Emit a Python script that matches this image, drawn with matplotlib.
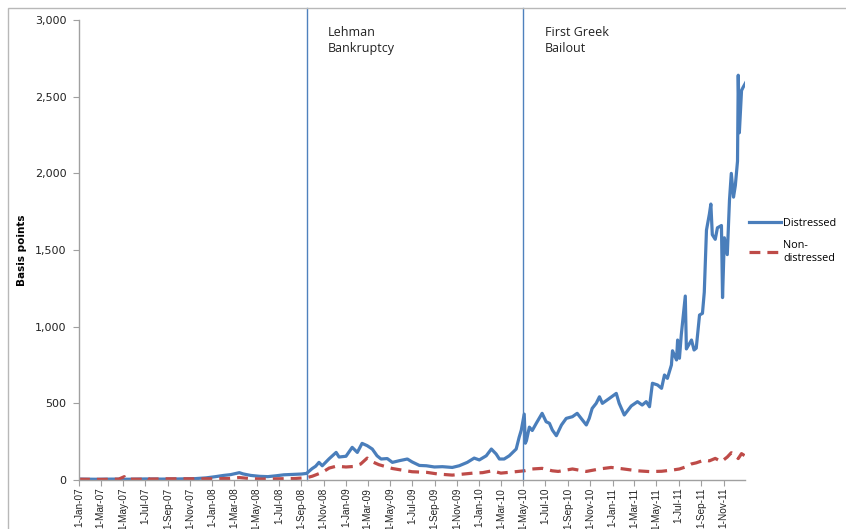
import pandas as pd
import matplotlib
matplotlib.use("Agg")
import matplotlib.pyplot as plt
import matplotlib.dates as mdates
from matplotlib.patches import Rectangle

# spreads, basis points
dist_dates = [
    "2007-01-01", "2007-02-15", "2007-04-01", "2007-05-15", "2007-07-01", "2007-08-15",
    "2007-10-01", "2007-11-15", "2007-12-15", "2008-01-10", "2008-02-01", "2008-02-20",
    "2008-03-15", "2008-03-25", "2008-04-15", "2008-05-10", "2008-06-01", "2008-06-25",
    "2008-07-15", "2008-08-10", "2008-09-01", "2008-09-15", "2008-09-30", "2008-10-10",
    "2008-10-19", "2008-10-28", "2008-11-16", "2008-12-05", "2008-12-13", "2009-01-01",
    "2009-01-18", "2009-02-01", "2009-02-14", "2009-02-28", "2009-03-14", "2009-03-27",
    "2009-04-07", "2009-04-24", "2009-05-08", "2009-05-27", "2009-06-18", "2009-07-01",
    "2009-07-21", "2009-08-09", "2009-08-31", "2009-09-22", "2009-10-19", "2009-11-07",
    "2009-11-29", "2009-12-18", "2010-01-01", "2010-01-20", "2010-02-03", "2010-02-16",
    "2010-02-25", "2010-03-10", "2010-03-24", "2010-04-12", "2010-04-20", "2010-04-26",
    "2010-05-04", "2010-05-07", "2010-05-10", "2010-05-18", "2010-05-26", "2010-06-06",
    "2010-06-22", "2010-07-03", "2010-07-12", "2010-07-20", "2010-07-31", "2010-08-14",
    "2010-08-27", "2010-09-13", "2010-09-26", "2010-10-07", "2010-10-21", "2010-10-29",
    "2010-11-06", "2010-11-17", "2010-11-26", "2010-12-04", "2010-12-23", "2011-01-11",
    "2011-01-19", "2011-02-02", "2011-02-21", "2011-03-10", "2011-03-23", "2011-04-03",
    "2011-04-12", "2011-04-20", "2011-05-04", "2011-05-15", "2011-05-23", "2011-05-31",
    "2011-06-11", "2011-06-14", "2011-06-25", "2011-06-28", "2011-07-03", "2011-07-08",
    "2011-07-19", "2011-07-22", "2011-08-05", "2011-08-12", "2011-08-18", "2011-08-27",
    "2011-09-04", "2011-09-09", "2011-09-15", "2011-09-23", "2011-09-27", "2011-10-01",
    "2011-10-09", "2011-10-15", "2011-10-26", "2011-10-29", "2011-11-03", "2011-11-11",
    "2011-11-17", "2011-11-22", "2011-11-28", "2011-12-03", "2011-12-09", "2011-12-11",
    "2011-12-14", "2011-12-20", "2011-12-24", "2011-12-31",
]
dist_bp = [
    6, 5, 6, 5, 7, 6,
    7, 9, 14, 22, 30, 35,
    48, 40, 30, 24, 22, 28,
    34, 37, 39, 43, 74, 90,
    115, 93, 139, 180, 150, 155,
    213, 180, 239, 224, 202, 158,
    137, 140, 115, 126, 137, 118,
    95, 93, 85, 87, 82, 93,
    115, 143, 131, 158, 202, 170,
    137, 137, 158, 202, 278, 326,
    430, 240, 256, 345, 323, 370,
    435, 380, 370, 326, 289, 359,
    402, 413, 435, 402, 359, 402,
    467, 500, 543, 500, 532, 565,
    500, 424, 483, 511, 489, 511,
    478, 631, 620, 598, 685, 663,
    750, 843, 783, 913, 794, 946,
    1200, 855, 913, 848, 860, 1076,
    1087, 1225, 1630, 1735, 1800, 1600,
    1570, 1645, 1660, 1190, 1580, 1470,
    1825, 2000, 1845, 1920, 2080, 2640,
    2265, 2540, 2560, 2590,
]

nondist_dates = [
    "2007-01-01", "2007-03-01", "2007-04-20", "2007-05-05", "2007-05-10", "2007-06-25",
    "2007-07-05", "2007-07-12", "2007-09-01", "2007-11-01", "2008-01-01", "2008-02-15",
    "2008-03-15", "2008-04-10", "2008-05-15", "2008-07-01", "2008-08-15", "2008-09-15",
    "2008-10-01", "2008-10-28", "2008-11-16", "2008-12-05", "2009-01-01", "2009-01-20",
    "2009-02-10", "2009-02-28", "2009-03-15", "2009-04-01", "2009-05-08", "2009-06-10",
    "2009-07-01", "2009-08-10", "2009-09-10", "2009-10-19", "2009-11-15", "2009-12-15",
    "2010-01-10", "2010-02-05", "2010-03-01", "2010-04-01", "2010-05-04", "2010-05-26",
    "2010-06-22", "2010-07-20", "2010-08-05", "2010-09-13", "2010-10-21", "2010-11-26",
    "2010-12-28", "2011-01-25", "2011-03-10", "2011-04-12", "2011-05-15", "2011-06-14",
    "2011-07-03", "2011-07-22", "2011-08-05", "2011-08-18", "2011-09-09", "2011-09-23",
    "2011-10-09", "2011-10-26", "2011-11-11", "2011-11-22", "2011-12-03", "2011-12-11",
    "2011-12-20", "2011-12-31",
]
nondist_bp = [
    5, 4, 6, 22, 6, 5,
    18, 6, 8, 8, 8, 10,
    16, 10, 6, 8, 10, 15,
    25, 50, 78, 90, 85, 88,
    104, 143, 118, 100, 75, 62,
    54, 50, 39, 32, 38, 45,
    48, 60, 45, 52, 60, 72,
    76, 60, 56, 72, 56, 72,
    82, 74, 60, 55, 57, 65,
    72, 87, 105, 112, 130, 125,
    141, 120, 150, 178, 162, 140,
    172, 155,
]

events = ["2008-09-15", "2010-05-02"]
event_labels = ["Lehman\nBankruptcy", "First Greek\nBailout"]

dist = pd.Series(dist_bp, index=pd.to_datetime(dist_dates))
nondist = pd.Series(nondist_bp, index=pd.to_datetime(nondist_dates))

fig = plt.figure(figsize=(8.46, 5.29), dpi=100)
ax = fig.add_axes([0.0934, 0.0926, 0.787, 0.8695])

# chart area border
fig.patches.append(Rectangle((8 / 846, -0.1), 1.2, 1.1 - 8 / 529,
                             transform=fig.transFigure, fill=False,
                             edgecolor="#b8b8b8", linewidth=1.0))

ax.plot(dist.index, dist.values, color="#4a7ebb", lw=2.3, label="Distressed",
        solid_joinstyle="round")
ax.plot(nondist.index, nondist.values, color="#be4b48", lw=2.3,
        dashes=(3.4, 2.2), label="Non-\ndistressed")

for d, lab in zip(events, event_labels):
    ax.axvline(pd.Timestamp(d), ymax=1.026, color="#4f81bd", lw=1.0, clip_on=False)
    ax.text(pd.Timestamp(d) + pd.Timedelta(days=58), 2960, lab, va="top", ha="left",
            fontsize=9, family="Open Sans", color="#222222", linespacing=1.25)

ax.set_ylim(0, 3000)
ax.set_xlim(pd.Timestamp("2007-01-01"), pd.Timestamp("2011-12-29"))
ax.set_yticks(range(0, 3001, 500))
ax.yaxis.set_major_formatter(plt.FuncFormatter(lambda v, p: f"{int(v):,}"))
ax.xaxis.set_major_locator(mdates.MonthLocator(bymonth=[1, 3, 5, 7, 9, 11]))
ax.xaxis.set_major_formatter(mdates.DateFormatter("1-%b-%y"))
plt.setp(ax.get_xticklabels(), rotation=90, family="Liberation Sans")

for s in ["top", "right"]:
    ax.spines[s].set_visible(False)
for s in ["left", "bottom"]:
    ax.spines[s].set_color("#a0a0a0")
    ax.spines[s].set_linewidth(1.0)
ax.tick_params(axis="both", colors="#a0a0a0", labelcolor="#222222", length=4,
               width=0.8)
ax.tick_params(axis="x", labelsize=7.2, pad=1.5)
ax.tick_params(axis="y", labelsize=8, pad=5)

ax.set_ylabel("Basis points", fontsize=7.5, fontweight="bold", labelpad=6)

ax.legend(loc="center left", bbox_to_anchor=(1.0, 0.52), frameon=False,
          borderaxespad=0.2, borderpad=0.2,
          handlelength=2.9, handletextpad=0.25, labelspacing=1.0,
          prop={"family": "Open Sans", "size": 7.8})

fig.savefig("out.png", dpi=100)
